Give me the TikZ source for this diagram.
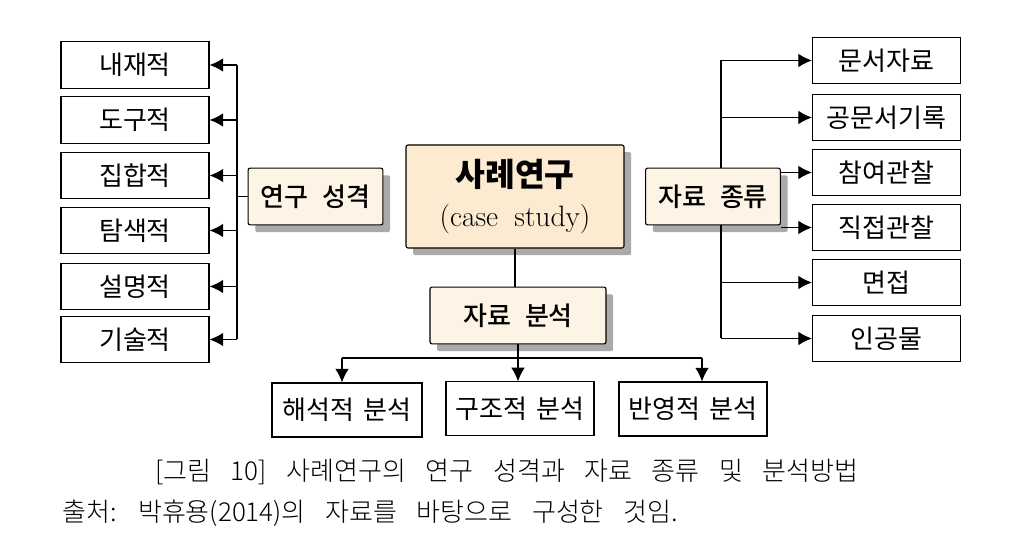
\documentclass[tikz,border=0pt]{standalone}
\usepackage{fontspec}
\setmainfont{Noto Sans CJK KR}[WordSpace=1.6]
\newfontfamily\krmed{Noto Sans CJK KR Medium}[WordSpace=2.4]
\newfontfamily\krcap{Noto Sans CJK KR Light}[WordSpace=3.4]
\newfontfamily\lmr{Latin Modern Roman}
\usetikzlibrary{arrows.meta,shadows}
\definecolor{mainfill}{RGB}{252,235,208}
\definecolor{headfill}{RGB}{253,244,230}
\definecolor{shadowgray}{RGB}{170,170,170}
\tikzset{
	itembox/.style={draw, line width=0.8pt, minimum width=3.7cm, minimum height=1.17cm, inner sep=0pt, font=\fontsize{18.5}{21}\selectfont},
	headbox/.style={draw, line width=0.8pt, fill=headfill, rounded corners=1.5pt, minimum width=3.37cm, minimum height=1.42cm, inner sep=0pt, font=\krmed\fontsize{18.5}{21}\selectfont, drop shadow={shadow xshift=0.18cm, shadow yshift=-0.18cm, fill=shadowgray, opacity=1}},
	mainbox/.style={headbox, fill=mainfill, minimum width=5.45cm, minimum height=2.575cm, align=center, font=\fontsize{21}{29}\selectfont},
	arr/.style={line width=0.8pt, -{Latex[length=0.34cm, width=0.34cm]}},
	link/.style={line width=0.8pt}
}

\begin{document}
\begin{tikzpicture}[x=0.025cm, y=-0.025cm]
			%%%%% START %%%%%
			
			\fill[white] (0, 0) rectangle (1014, 550);
			\useasboundingbox (0, 0) rectangle (1014, 550);
			
			\node[mainbox] (case) at (515, 196.5) {{\bfseries\fontsize{23}{29}\selectfont 사례연구}\\{\lmr (case\hspace{0.55em}study)}};
			
			\node[headbox] (nature) at (315.5, 196.5) {연구 성격};
			\node[headbox] (kinds) at (713, 196.5) {자료 종류};
			\node[headbox, minimum width=4.4cm] (analysis) at (518, 315.5) {자료 분석};
			
			\foreach \name/\y/\txt in {l1/65/내재적, l2/120/도구적, l3/175.5/집합적, l4/230.5/탐색적, l5/286.5/설명적, l6/339.5/기술적}
				\node[itembox] (\name) at (135, \y) {\txt};
			
			\foreach \name/\y/\txt in {r1/60.5/문서자료, r2/117.5/공문서기록, r3/172.5/참여관찰, r4/227.5/직접관찰, r5/282.5/면접, r6/338.5/인공물}
				\node[itembox] (\name) at (886.5, \y) {\txt};
			
			\node[itembox, minimum width=3.75cm, minimum height=1.35cm] (b1) at (347, 410) {해석적 분석};
			\node[itembox, minimum width=3.7cm, minimum height=1.33cm] (b2) at (520, 408.5) {구조적 분석};
			\node[itembox, minimum width=3.7cm, minimum height=1.35cm] (b3) at (693, 409) {반영적 분석};
			
			% left branch
			\coordinate (ls) at (237, 0);
			\draw[link] (nature.west) -- (ls |- nature.west);
			\draw[link] (ls |- l1.east) -- (ls |- l6.east);
			\foreach \name in {l1, l2, l3, l4, l5, l6}
				\draw[arr] (ls |- \name.east) -- (\name.east);
			
			% right branch
			\coordinate (rs) at (721, 0);
			\draw[link] (rs |- r1.west) -- (rs |- kinds.north);
			\draw[link] (rs |- kinds.south) -- (rs |- r6.west);
			\foreach \name in {r1, r2, r5, r6}
				\draw[arr] (rs |- \name.west) -- (\name.west);
			\draw[arr] (kinds.east |- r3.west) -- (r3.west);
			\draw[arr] (kinds.east |- r4.west) -- (r4.west);
			
			% bottom branch
			\draw[link] (case.south) -- (case.south |- analysis.north);
			\coordinate (bl) at (342, 358);
			\coordinate (br) at (702, 358);
			\draw[link] (bl) -- (br);
			\draw[arr] (bl) -- (bl |- b1.north);
			\draw[arr] (analysis.south) -- (analysis.south |- b2.north);
			\draw[arr] (br) -- (br |- b3.north);
			
			% caption
			\node[font=\krcap\fontsize{18.5}{21}\selectfont, inner sep=0pt] (title) at (507, 472) {[그림 10] 사례연구의 연구 성격과 자료 종류 및 분석방법};
			\node[font=\krcap\fontsize{18.5}{21}\selectfont, inner sep=0pt, anchor=west] (source) at (62, 513) {출처: 박휴용(2014)의 자료를 바탕으로 구성한 것임.};
			
			%%%%% END %%%%%
\end{tikzpicture}
\end{document}
